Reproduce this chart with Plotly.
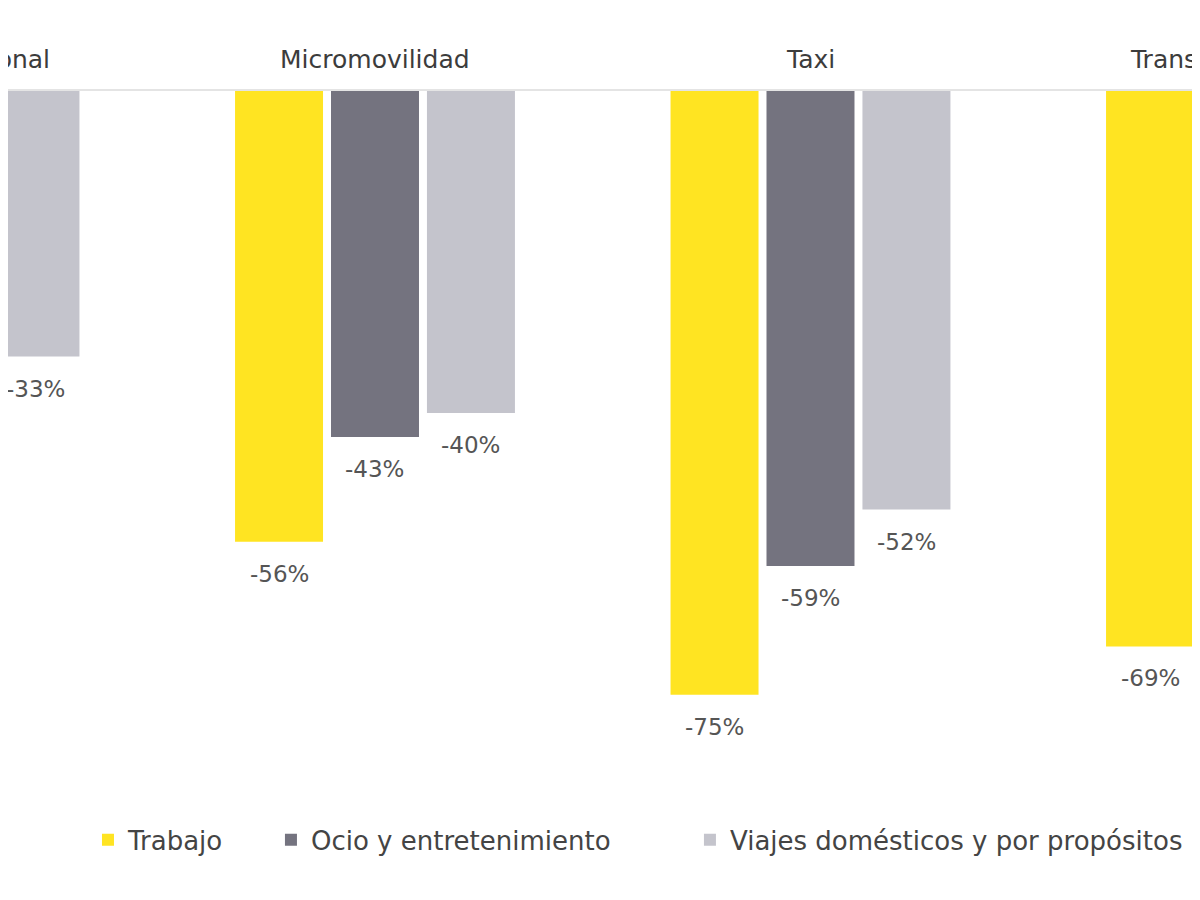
import plotly.graph_objects as go

categories = ["Vehículo personal", "Micromovilidad", "Taxi", "Transporte público"]
series_names = ["Trabajo", "Ocio y entretenimiento", "Viajes domésticos y por propósitos"]
trabajo = [-45, -56, -75, -69]
ocio = [-38, -43, -59, -62]
viajes = [-33, -40, -52, -55]
series_values = [trabajo, ocio, viajes]
colors = ["#FFE422", "#74737F", "#C4C4CC"]

FONT = "DejaVu Sans"
BARGAP = 0.339
BARGROUPGAP = 0.083
X_RANGE = [0.1573, 2.8944]
slot = (1 - BARGAP) / len(series_values)

fig = go.Figure()
legend_ids = ["legend", "legend2", "legend3"]
for name, vals, col, lg in zip(series_names, series_values, colors, legend_ids):
    fig.add_trace(go.Bar(x=categories, y=vals, name=name, marker=dict(color=col, line=dict(width=0)),
                         legend=lg, hoverinfo="skip"))

annotations = []
# category labels above the zero line (paper x derived from the axis range so cropped groups still show)
for ci, cat in enumerate(categories):
    annotations.append(dict(x=(ci - X_RANGE[0]) / (X_RANGE[1] - X_RANGE[0]), y=1, xref="paper", yref="paper",
                            text=cat, showarrow=False, yshift=32, yanchor="middle", xanchor="center",
                            font=dict(family=FONT, size=25, color="#3C3C3C")))

# value labels under each bar
for si, vals in enumerate(series_values):
    off = (si - (len(series_values) - 1) / 2) * slot
    for ci, v in enumerate(vals):
        annotations.append(dict(x=ci + off, y=v, xref="x", yref="y", text=f"{v}%", showarrow=False,
                                yshift=-32, yanchor="middle", xanchor="center",
                                font=dict(family=FONT, size=23, color="#555555")))

legend_common = dict(orientation="h", yref="paper", y=-0.087, yanchor="middle", xanchor="left",
                     font=dict(family=FONT, size=26, color="#444444"), bgcolor="rgba(0,0,0,0)",
                     borderwidth=0)

fig.update_layout(
    width=1192, height=892,
    margin=dict(l=0, r=0, t=83, b=120, autoexpand=False),
    paper_bgcolor="white", plot_bgcolor="white",
    barmode="group", bargap=BARGAP, bargroupgap=BARGROUPGAP,
    xaxis=dict(type="category", range=X_RANGE, side="top", showline=True, linecolor="#E4E4E4",
               linewidth=2, showticklabels=False, ticks="", showgrid=False, zeroline=False),
    yaxis=dict(range=[-85.6, 0], visible=False, showgrid=False, zeroline=False),
    annotations=annotations,
    showlegend=True,
    legend=dict(x=0.0671, **legend_common),
    legend2=dict(x=0.2206, **legend_common),
    legend3=dict(x=0.5721, **legend_common),
)

fig.write_html("out.html")
